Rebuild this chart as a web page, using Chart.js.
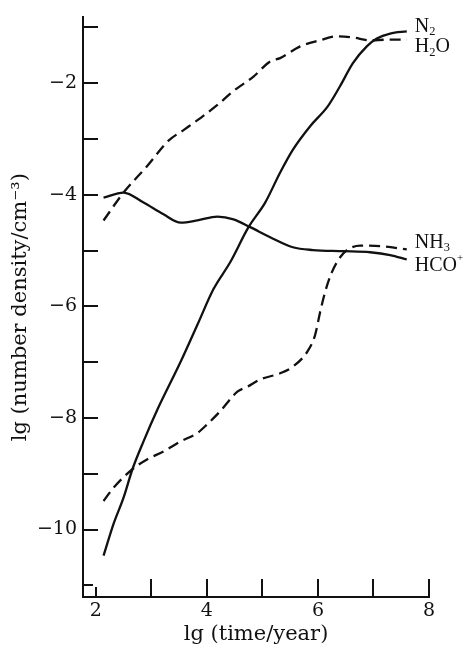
<!DOCTYPE html>
<html><head><meta charset="utf-8">
<script src="https://cdn.jsdelivr.net/npm/chart.js@4"></script>
<style>html,body{margin:0;padding:0;background:#fff}</style>
</head><body>
<canvas id="c" width="464" height="651"></canvas>
<script>
// ---- data ----
const xTickValues = [2, 3, 4, 5, 6, 7, 8];
const yTickValues = [-11, -10, -9, -8, -7, -6, -5, -4, -3, -2, -1];

const seriesNames = ['N2', 'H2O', 'NH3', 'HCO+'];

const n2X  = [2.14, 2.32, 2.50, 2.66, 2.86, 3.11, 3.53, 3.83, 4.12, 4.42, 4.75, 5.05, 5.32, 5.55, 5.86, 6.18, 6.40, 6.63, 6.88, 7.06, 7.30, 7.60];
const n2Y  = [-10.47, -9.90, -9.43, -8.92, -8.42, -7.85, -6.99, -6.33, -5.69, -5.21, -4.58, -4.14, -3.60, -3.19, -2.77, -2.41, -2.05, -1.64, -1.34, -1.20, -1.11, -1.07];

const h2oX = [2.14, 2.50, 2.93, 3.31, 3.58, 3.89, 4.19, 4.48, 4.84, 5.14, 5.32, 5.68, 6.04, 6.34, 6.63, 6.94, 7.24, 7.60];
const h2oY = [-4.46, -3.96, -3.48, -3.03, -2.84, -2.62, -2.39, -2.14, -1.88, -1.61, -1.55, -1.34, -1.23, -1.16, -1.18, -1.23, -1.22, -1.22];

const nh3X = [2.14, 2.32, 2.66, 2.93, 3.22, 3.53, 3.83, 4.01, 4.24, 4.55, 4.73, 4.96, 5.32, 5.55, 5.81, 5.95, 6.04, 6.13, 6.25, 6.40, 6.54, 6.76, 7.12, 7.60];
const nh3Y = [-9.49, -9.25, -8.92, -8.74, -8.60, -8.42, -8.27, -8.11, -7.88, -7.53, -7.44, -7.31, -7.20, -7.08, -6.81, -6.51, -6.10, -5.74, -5.39, -5.12, -4.98, -4.91, -4.92, -4.98];

const hcoX = [2.14, 2.50, 2.86, 3.22, 3.53, 3.83, 4.19, 4.48, 4.78, 5.14, 5.55, 5.91, 6.45, 6.94, 7.30, 7.60];
const hcoY = [-4.05, -3.96, -4.14, -4.35, -4.50, -4.46, -4.39, -4.44, -4.58, -4.76, -4.94, -4.99, -5.01, -5.03, -5.08, -5.16];

// ---- build chart ----
const pts = (xs, ys) => xs.map((x, i) => ({x: x, y: ys[i]}));
const serif = "'Liberation Serif', 'Times New Roman', serif";
const wideSerif = "'DejaVu Serif', 'Liberation Serif', serif";

function mk(name, xs, ys, dashed, dy) {
  return {
    label: name,
    data: pts(xs, ys),
    borderColor: '#111',
    borderWidth: 2.3,
    borderDash: dashed ? [11, 6] : [],
    pointRadius: 0,
    fill: false,
    cubicInterpolationMode: 'monotone',
    clip: false,
    labelDy: dy
  };
}

const datasets = [
  mk(seriesNames[0], n2X, n2Y, false, -5),
  mk(seriesNames[1], h2oX, h2oY, true, 7),
  mk(seriesNames[2], nh3X, nh3Y, true, -7),
  mk(seriesNames[3], hcoX, hcoY, false, 6)
];

function drawChem(ctx, name, x, y, size) {
  // digits -> subscript, '+' -> superscript
  let cx = x;
  for (const ch of name) {
    let fs = size, oy = 0;
    if (/[0-9]/.test(ch)) { fs = size * 0.62; oy = size * 0.28; }
    else if (ch === '+') { fs = size * 0.55; oy = -size * 0.35; }
    ctx.font = fs + 'px ' + serif;
    ctx.fillText(ch, cx, y + oy);
    cx += ctx.measureText(ch).width;
  }
}

const axisDecor = {
  id: 'axisDecor',
  afterDraw(chart) {
    const ctx = chart.ctx, xs = chart.scales.x, ys = chart.scales.y, ca = chart.chartArea;
    ctx.save();
    ctx.strokeStyle = '#111';
    ctx.lineWidth = 2;
    ctx.beginPath();
    yTickValues.forEach(v => {
      const py = Math.round(ys.getPixelForValue(v));
      const len = v === -11 ? 10 : 15;
      ctx.moveTo(ca.left, py); ctx.lineTo(ca.left + len, py);
    });
    xTickValues.forEach(v => {
      const px = Math.round(xs.getPixelForValue(v));
      const len = v === 2 ? 10 : 18;
      ctx.moveTo(px, ca.bottom); ctx.lineTo(px, ca.bottom - len);
    });
    ctx.stroke();
    // series labels at the right ends of the curves
    ctx.fillStyle = '#111';
    ctx.textBaseline = 'middle';
    ctx.textAlign = 'left';
    chart.data.datasets.forEach(ds => {
      const last = ds.data[ds.data.length - 1];
      const px = xs.getPixelForValue(last.x) + 8;
      const py = ys.getPixelForValue(last.y) + ds.labelDy;
      drawChem(ctx, ds.label, px, py, 20);
    });
    ctx.restore();
  }
};

const fmt = v => (v % 2 === 0) ? (v < 0 ? '\u2212' + Math.abs(v) : String(v)) : '';

new Chart(document.getElementById('c'), {
  type: 'line',
  data: { datasets: datasets },
  options: {
    responsive: false,
    animation: false,
    devicePixelRatio: 1,
    layout: { padding: { left: 0, top: 14, right: 35, bottom: 0 } },
    plugins: { legend: { display: false }, tooltip: { enabled: false } },
    scales: {
      x: {
        type: 'linear',
        min: 1.77, max: 8,
        grid: { display: false, drawTicks: false },
        border: { display: true, color: '#111', width: 2 },
        afterBuildTicks: s => { s.ticks = xTickValues.map(v => ({value: v})); },
        afterFit: s => { s.height = 54; },
        ticks: { autoSkip: false, maxRotation: 0, padding: 3, color: '#111',
                 font: { family: wideSerif, size: 19 }, callback: fmt },
        title: { display: true, text: 'lg (time/year)', color: '#111',
                 font: { family: wideSerif, size: 21 }, padding: { top: 0, bottom: 4 } }
      },
      y: {
        type: 'linear',
        min: -11.21, max: -0.82,
        grid: { display: false, drawTicks: false },
        border: { display: true, color: '#111', width: 2 },
        afterBuildTicks: s => { s.ticks = yTickValues.map(v => ({value: v})); },
        afterFit: s => { s.width = 83; },
        ticks: { autoSkip: false, padding: 6, color: '#111',
                 font: { family: wideSerif, size: 19 }, callback: fmt },
        title: { display: true, text: 'lg (number density/cm\u207B\u00B3)', color: '#111',
                 font: { family: wideSerif, size: 21 }, padding: { top: 8, bottom: 0 } }
      }
    }
  },
  plugins: [axisDecor]
});
</script>
</body></html>
